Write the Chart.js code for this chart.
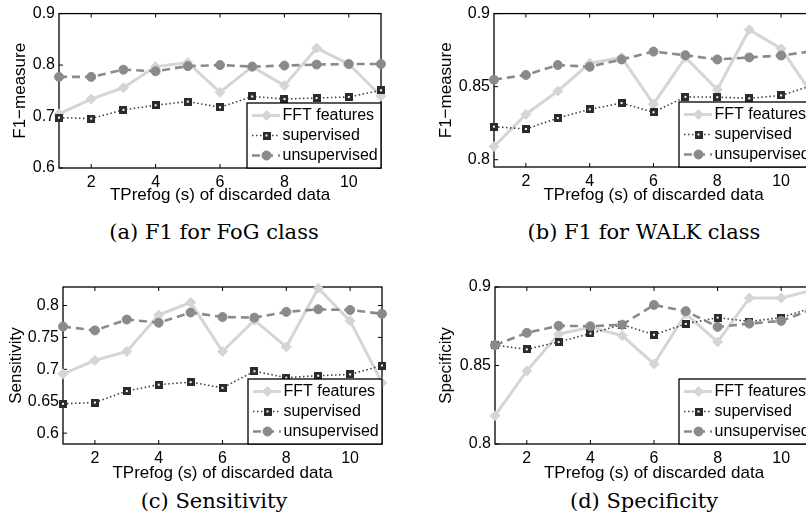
<!DOCTYPE html>
<html><head><meta charset="utf-8">
<script src="https://cdn.jsdelivr.net/npm/chart.js@4/dist/chart.umd.min.js"></script>
<style>
html,body{margin:0;padding:0;background:#fff;overflow:hidden;width:806px;height:523px}
#stage{position:relative;width:806px;height:523px;overflow:hidden;background:#fff}
canvas{position:absolute}
.cap{position:absolute;font-family:"DejaVu Serif",serif;font-size:21px;color:#000;white-space:nowrap;transform:translateX(-50%);line-height:24px}
</style></head><body>
<div id="stage">
<canvas id="cA" width="400" height="215" style="left:0px;top:0px;width:400px;height:215px"></canvas>
<canvas id="cB" width="440" height="215" style="left:400px;top:0px;width:440px;height:215px"></canvas>
<canvas id="cC" width="400" height="215" style="left:0px;top:270px;width:400px;height:215px"></canvas>
<canvas id="cD" width="440" height="215" style="left:400px;top:270px;width:440px;height:215px"></canvas>
<div class="cap" style="left:214px;top:220px">(a) F1 for FoG class</div>
<div class="cap" style="left:644px;top:220px">(b) F1 for WALK class</div>
<div class="cap" style="left:214px;top:489px">(c) Sensitivity</div>
<div class="cap" style="left:644px;top:489px">(d) Specificity</div>
</div>
<script>
// ---- data ----
const xValues = [1, 2, 3, 4, 5, 6, 7, 8, 9, 10, 11];
const xTickValues = [2, 4, 6, 8, 10];
const seriesNames = ['FFT features', 'supervised', 'unsupervised'];
const xTitle = 'TPrefog (s) of discarded data';

// (a) F1 for FoG class
const fftA = [0.705, 0.734, 0.756, 0.797, 0.805, 0.747, 0.797, 0.760, 0.833, 0.802, 0.740];
const supA = [0.698, 0.696, 0.713, 0.722, 0.729, 0.718, 0.739, 0.734, 0.736, 0.738, 0.751];
const unsA = [0.777, 0.777, 0.791, 0.788, 0.798, 0.800, 0.797, 0.799, 0.801, 0.802, 0.802];
const yTicksA = [0.6, 0.7, 0.8, 0.9];

// (b) F1 for WALK class
const fftB = [0.809, 0.831, 0.847, 0.866, 0.870, 0.838, 0.870, 0.848, 0.889, 0.876, 0.844];
const supB = [0.8226, 0.821, 0.8285, 0.8345, 0.8388, 0.8325, 0.843, 0.8428, 0.842, 0.844, 0.851];
const unsB = [0.8547, 0.858, 0.8648, 0.8636, 0.8686, 0.874, 0.8715, 0.8686, 0.870, 0.8713, 0.8743];
const yTicksB = [0.8, 0.85, 0.9];

// (c) Sensitivity
const fftC = [0.693, 0.714, 0.728, 0.785, 0.805, 0.728, 0.777, 0.735, 0.827, 0.776, 0.679];
const supC = [0.646, 0.648, 0.666, 0.676, 0.680, 0.671, 0.697, 0.687, 0.690, 0.692, 0.706];
const unsC = [0.767, 0.761, 0.778, 0.773, 0.789, 0.782, 0.781, 0.790, 0.794, 0.793, 0.787];
const yTicksC = [0.6, 0.65, 0.7, 0.75, 0.8];

// (d) Specificity
const fftD = [0.818, 0.8465, 0.870, 0.8744, 0.869, 0.851, 0.883, 0.865, 0.893, 0.893, 0.898];
const supD = [0.863, 0.8603, 0.865, 0.8704, 0.876, 0.8696, 0.8765, 0.8805, 0.878, 0.8805, 0.887];
const unsD = [0.863, 0.8708, 0.8753, 0.875, 0.876, 0.8886, 0.8846, 0.8746, 0.8767, 0.8784, 0.886];
const yTicksD = [0.8, 0.85, 0.9];

// ---- styling ----
const FONT = '"Liberation Sans", Arial, sans-serif';
function squareMarker() {
  const c = document.createElement('canvas');
  c.width = 8; c.height = 8;
  const g = c.getContext('2d');
  g.fillStyle = '#2b2b2b'; g.fillRect(0, 0, 8, 8);
  g.fillStyle = '#ffffff'; g.fillRect(3, 3, 2, 2);
  return c;
}
const SQ = squareMarker();
const seriesStyles = [
  {borderColor: '#d5d5d5', backgroundColor: '#d5d5d5', pointBorderColor: '#d5d5d5', borderWidth: 3, borderDash: [], pointStyle: 'rectRot', pointRadius: 5, pointBorderWidth: 1, order: 3},
  {borderColor: '#404040', backgroundColor: '#2b2b2b', pointBorderColor: '#2b2b2b', borderWidth: 1.6, borderDash: [1.5, 2.5], pointStyle: SQ, pointRadius: 4, pointBorderWidth: 0, order: 2},
  {borderColor: '#8a8a8a', backgroundColor: '#8a8a8a', pointBorderColor: '#8a8a8a', borderWidth: 2.6, borderDash: [8, 5], pointStyle: 'circle', pointRadius: 4.5, pointBorderWidth: 1, order: 1}
];

const framePlugin = {
  id: 'frame',
  beforeDatasetsDraw(chart) {
    const ctx = chart.ctx, a = chart.chartArea;
    const xs = chart.scales.x, ys = chart.scales.y;
    ctx.save();
    ctx.strokeStyle = '#000'; ctx.lineWidth = 1.3; ctx.setLineDash([]);
    ctx.strokeRect(a.left, a.top, a.right - a.left, a.bottom - a.top);
    ctx.lineWidth = 1;
    ctx.beginPath();
    xs.ticks.forEach(t => {
      const p = xs.getPixelForValue(t.value);
      ctx.moveTo(p, a.bottom); ctx.lineTo(p, a.bottom - 4);
      ctx.moveTo(p, a.top); ctx.lineTo(p, a.top + 4);
    });
    ys.ticks.forEach(t => {
      const p = ys.getPixelForValue(t.value);
      ctx.moveTo(a.left, p); ctx.lineTo(a.left + 4, p);
      ctx.moveTo(a.right, p); ctx.lineTo(a.right - 4, p);
    });
    ctx.stroke();
    ctx.restore();
  },
  afterDatasetsDraw(chart) {
    const ctx = chart.ctx, a = chart.chartArea;
    const w = 134, h = 65;
    const x0 = a.right - w, y0 = a.bottom - h;
    ctx.save();
    ctx.fillStyle = '#fff';
    ctx.fillRect(x0, y0, w, h);
    ctx.strokeStyle = '#000'; ctx.lineWidth = 1.3; ctx.setLineDash([]);
    ctx.strokeRect(x0, y0, w, h);
    const rows = [12.5, 32.5, 52.5];
    chart.data.datasets.forEach((ds, i) => {
      const y = y0 + rows[i];
      ctx.save();
      ctx.strokeStyle = ds.borderColor; ctx.lineWidth = ds.borderWidth;
      ctx.setLineDash(ds.borderDash);
      ctx.beginPath(); ctx.moveTo(x0 + 5, y); ctx.lineTo(x0 + 33, y); ctx.stroke();
      ctx.setLineDash([]);
      ctx.fillStyle = ds.backgroundColor; ctx.strokeStyle = ds.pointBorderColor; ctx.lineWidth = ds.pointBorderWidth;
      Chart.helpers.drawPoint(ctx, {pointStyle: ds.pointStyle, radius: ds.pointRadius, rotation: 0, borderWidth: ds.pointBorderWidth}, x0 + 19.5, y);
      ctx.restore();
      ctx.fillStyle = '#000';
      ctx.font = '16px ' + FONT;
      ctx.textBaseline = 'middle'; ctx.textAlign = 'left';
      ctx.fillText(ds.label, x0 + 35.5, y + 0.5);
    });
    ctx.restore();
  }
};

function makePanel(id, series, yTicks, yMin, yMax, yTitle, L) {
  const datasets = series.map((vals, i) => Object.assign({
    label: seriesNames[i],
    data: xValues.map((x, j) => ({x: x, y: vals[j]})),
    tension: 0, fill: false, borderCapStyle: 'butt', clip: false
  }, seriesStyles[i]));
  new Chart(document.getElementById(id), {
    type: 'line',
    data: {datasets},
    options: {
      responsive: false, animation: false, devicePixelRatio: 1,
      layout: {padding: {top: L.top, right: L.right, left: 0, bottom: 0}},
      plugins: {legend: {display: false}, tooltip: {enabled: false}},
      scales: {
        x: {
          type: 'linear', min: 1, max: 11,
          afterBuildTicks: s => { s.ticks = xTickValues.map(v => ({value: v})); },
          afterFit: s => { s.height = L.xh; },
          grid: {display: false, drawTicks: false}, border: {display: false},
          ticks: {color: '#000', font: {family: FONT, size: 16}, padding: 5, autoSkip: false, maxRotation: 0, callback: v => String(v)},
          title: {display: true, text: xTitle, color: '#000', font: {family: FONT, size: 17}, padding: {top: 0, bottom: L.xtp}}
        },
        y: {
          type: 'linear', min: yMin, max: yMax,
          afterBuildTicks: s => { s.ticks = yTicks.map(v => ({value: v})); },
          afterFit: s => { s.width = L.yw; },
          grid: {display: false, drawTicks: false}, border: {display: false},
          ticks: {color: '#000', font: {family: FONT, size: 16}, padding: 4, autoSkip: false, callback: v => String(v)},
          title: {display: true, text: yTitle, color: '#000', font: {family: FONT, size: 17}, padding: {top: L.ytp, bottom: 0}}
        }
      }
    },
    plugins: [framePlugin]
  });
}

makePanel('cA', [fftA, supA, unsA], yTicksA, 0.6, 0.9, 'F1\u2212measure', {top: 10, right: 19, xh: 47, yw: 59, xtp: 9.5, ytp: 10.5});
makePanel('cB', [fftB, supB, unsB], yTicksB, 0.795, 0.9, 'F1\u2212measure', {top: 10, right: 27, xh: 48, yw: 94, xtp: 9.5, ytp: 36.5});
makePanel('cC', [fftC, supC, unsC], yTicksC, 0.583, 0.829, 'Sensitivity', {top: 17, right: 18, xh: 41, yw: 63, xtp: 1.5, ytp: 6.5});
makePanel('cD', [fftD, supD, unsD], yTicksD, 0.8, 0.9, 'Specificity', {top: 17, right: 27, xh: 41, yw: 95, xtp: 1.5, ytp: 36.5});
</script>
</body></html>
